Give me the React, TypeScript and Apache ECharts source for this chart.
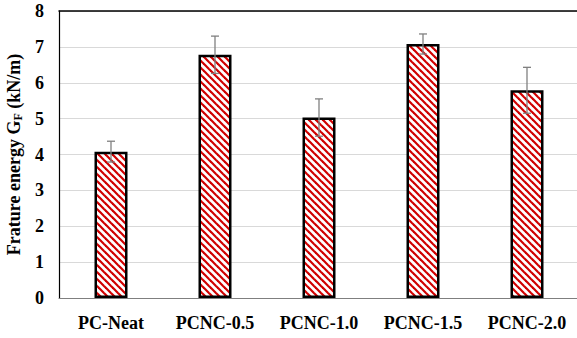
import React, { useEffect, useRef } from "react";
import * as echarts from "echarts";

const categories = ["PC-Neat", "PCNC-0.5", "PCNC-1.0", "PCNC-1.5", "PCNC-2.0"];
const values = [4.08, 6.78, 5.03, 7.08, 5.79];
const errors = [0.29, 0.52, 0.52, 0.28, 0.64];
const yTicks = [0, 1, 2, 3, 4, 5, 6, 7, 8];

function makePattern(): HTMLCanvasElement {
  const s = 7;
  const c = document.createElement("canvas");
  c.width = s;
  c.height = s;
  const ctx = c.getContext("2d")!;
  ctx.fillStyle = "#ffffff";
  ctx.fillRect(0, 0, s, s);
  ctx.strokeStyle = "#d00000";
  ctx.lineWidth = 2.2;
  for (const k of [-s, 0, s]) {
    ctx.beginPath();
    ctx.moveTo(k - 1, -1);
    ctx.lineTo(k + s + 1, s + 1);
    ctx.stroke();
  }
  return c;
}

export default function App() {
  const ref = useRef<HTMLDivElement>(null);
  useEffect(() => {
    document.body.style.margin = "0";
    const chart = echarts.init(ref.current!, null, { renderer: "svg" });
    const pattern = makePattern();
    const font = "Times New Roman";
    chart.setOption({
      animation: false,
      backgroundColor: "#ffffff",
      textStyle: { fontFamily: font },
      grid: { left: 59, top: 11, right: -2, bottom: 40, outerBoundsMode: "none", containLabel: false },
      xAxis: [
        {
          type: "category",
          data: categories,
          axisLine: { lineStyle: { color: "#7f7f7f", width: 1.2 } },
          axisTick: { show: false },
          axisLabel: {
            color: "#000",
            fontFamily: font,
            fontWeight: "bold",
            fontSize: 18,
            margin: 16,
          },
        },
        {
          type: "category",
          data: categories,
          position: "top",
          axisLine: { lineStyle: { color: "#000", width: 1.5 } },
          axisTick: { show: false },
          axisLabel: { show: false },
        },
      ],
      yAxis: {
        type: "value",
        min: 0,
        max: 8,
        interval: 1,
        axisLine: { show: true, lineStyle: { color: "#000", width: 1.2 } },
        axisTick: { show: false },
        splitLine: { lineStyle: { color: "#d9d9d9", width: 1 } },
        axisLabel: {
          color: "#000",
          fontFamily: font,
          fontWeight: "bold",
          fontSize: 18,
          margin: 15,
          formatter: (v: number) => (yTicks.includes(v) ? String(v) : ""),
        },
        name: "Frature energy G{sub|F} (kN/m)",
        nameLocation: "middle",
        nameRotate: 90,
        nameGap: 34,
        nameTextStyle: {
          color: "#000",
          fontFamily: font,
          fontWeight: "bold",
          fontSize: 18,
          rich: {
            sub: {
              fontFamily: font,
              fontWeight: "bold",
              fontSize: 12,
              color: "#000",
              padding: [8, 0, 0, 0],
            },
          },
        },
      },
      series: [
        {
          type: "bar",
          data: values,
          barWidth: 33,
          itemStyle: {
            color: { image: pattern, repeat: "repeat" },
            borderColor: "#000",
            borderWidth: 2.5,
          },
          z: 2,
        },
        {
          type: "custom",
          z: 5,
          data: values.map((v, i) => [i, v, errors[i]]),
          renderItem: (params: any, api: any) => {
            const i = api.value(0);
            const v = api.value(1);
            const e = api.value(2);
            const top = api.coord([i, v + e]);
            const bot = api.coord([i, v - e]);
            const cap = 4;
            const style = { stroke: "#808080", lineWidth: 1.3 };
            return {
              type: "group",
              children: [
                { type: "line", shape: { x1: top[0], y1: top[1], x2: bot[0], y2: bot[1] }, style },
                { type: "line", shape: { x1: top[0] - cap, y1: top[1], x2: top[0] + cap, y2: top[1] }, style },
                { type: "line", shape: { x1: bot[0] - cap, y1: bot[1], x2: bot[0] + cap, y2: bot[1] }, style },
              ],
            };
          },
        },
      ],
    });
    return () => chart.dispose();
  }, []);
  return <div ref={ref} style={{ width: 577, height: 338 }} />;
}
